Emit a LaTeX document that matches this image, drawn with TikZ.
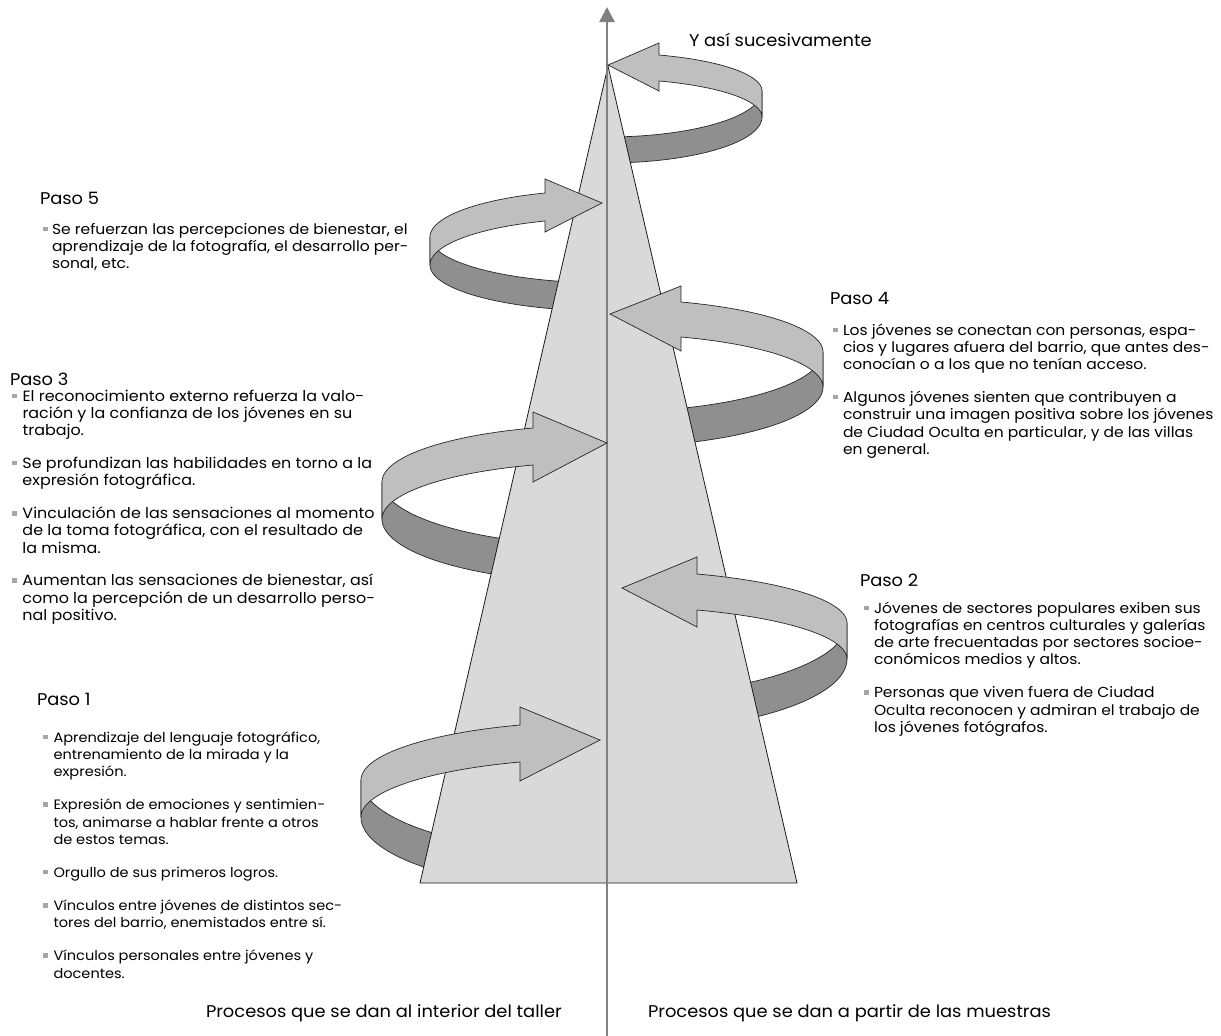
\documentclass[tikz,border=0pt]{standalone}
\usepackage{fontspec}
\setmainfont{Poppins}[FakeStretch=1.07]
\newfontfamily\headff{Poppins}[FakeStretch=1.05]
\usetikzlibrary{arrows.meta}
\definecolor{lightband}{HTML}{BFBFBF}
\definecolor{darkband}{HTML}{8F8F8F}
\definecolor{trifill}{HTML}{D9D9D9}
\definecolor{axisgray}{HTML}{808080}
\definecolor{bulgray}{HTML}{A6A6A6}
\pgfdeclarelayer{back}
\pgfdeclarelayer{mid}
\pgfsetlayers{back,mid,main}
\tikzset{
  darkpart/.style={fill=darkband, draw=black!85, line width=0.7pt, line join=round},
  lightpart/.style={fill=lightband, draw=black!85, line width=0.7pt, line join=miter},
  tristyle/.style={fill=trifill, draw=black!90, line width=0.8pt},
  axisline/.style={draw=axisgray, line width=2.4pt, -{Triangle[width=15pt,length=15pt]}},
  txtblock/.style={anchor=base west, inner sep=0pt, outer sep=0pt},
}
\newcommand\bodyfont{\fontsize{14.5}{17.3}\selectfont}
\newcommand\headfont{\headff\fontsize{17}{19}\selectfont}
\newcommand\bul{\textcolor{bulgray}{\rule[3pt]{4.5pt}{4.5pt}}}
\pgfkeys{/rib/.is family, /rib,
  side/.store in=\rs, cy/.store in=\rcy, a/.store in=\ra, h/.store in=\rh,
  bl/.store in=\rbl, hb/.store in=\rhb, y1/.store in=\ryone, ht/.store in=\rht,
  hbt/.store in=\rhbt, tx/.store in=\rtx, ty/.store in=\rty, xb/.store in=\rxb}
\newcommand\ribbon[1]{%
  \pgfkeys{/rib,#1}%
  \pgfmathsetmacro\rcx{607}%
  \pgfmathsetmacro\rth{acos((\rhb-\rcx)/\ra)}%
  \pgfmathsetmacro\rbu{(\rcy-\ryone)/sin(\rth)}%
  \pgfmathsetmacro\rtb{acos((\rxb-\rcx)/\ra)}%
  \pgfmathsetmacro\rend{\rs>0 ? 0 : 180}%
  \pgfmathsetmacro\rxe{\rcx+\rs*\ra}%
  \begin{pgfonlayer}{back}
    \filldraw[darkpart] plot[domain=\rend:\rtb, samples=50] ({\rcx+\ra*cos(\x)},{\rcy+\rbl*sin(\x)})
      -- plot[domain=\rtb:\rend, samples=50] ({\rcx+\ra*cos(\x)},{\rcy+\rh+\rbl*sin(\x)}) -- cycle;
  \end{pgfonlayer}
  \filldraw[lightpart] plot[domain=\rth:\rend, samples=50] ({\rcx+\ra*cos(\x)},{\rcy-\rbu*sin(\x)})
    -- (\rxe,\rcy+\rh)
    -- plot[domain=\rend:\rth, samples=50] ({\rcx+\ra*cos(\x)},{\rcy+\rh-\rbu*sin(\x)})
    -- (\rhb,\rhbt) -- (\rtx,\rty) -- (\rhb,\rht) -- cycle;
}
\begin{document}
\begin{tikzpicture}[x=1pt,y=-1pt]
\useasboundingbox (0,0) rectangle (1221,1036);
% cone and axis
\coordinate (apex) at (608,66);
\coordinate (bleft) at (420,883);
\coordinate (bright) at (797,883);
\coordinate (axbot) at (607,1036);
\coordinate (axtop) at (607,7);
\begin{pgfonlayer}{mid}
  \filldraw[tristyle] (apex) -- (bleft) -- (bright) -- cycle;
  \draw[axisline] (axbot) -- (axtop);
\end{pgfonlayer}
% ribbons
\ribbon{side=1, cy=91, a=155, h=26, bl=46, hb=659, y1=55, ht=43, hbt=91, tx=608, ty=65, xb=615}
\ribbon{side=-1, cy=237, a=177, h=28, bl=46, hb=545, y1=193, ht=179, hbt=232, tx=602, ty=203, xb=575}
\ribbon{side=1, cy=352, a=216, h=35, bl=60, hb=681, y1=302, ht=286, hbt=351, tx=610, ty=314, xb=665}
\ribbon{side=-1, cy=482, a=225, h=37, bl=64, hb=533, y1=428, ht=412, hbt=482, tx=607, ty=443, xb=520}
\ribbon{side=1, cy=623, a=240, h=36, bl=74, hb=697, y1=574, ht=557, hbt=627, tx=622, ty=588, xb=720}
\ribbon{side=-1, cy=780, a=246, h=37, bl=75, hb=520, y1=725, ht=707, hbt=781, tx=600, ty=740, xb=450}
% texts
\node[txtblock] (ysuc) at (689,46) {\headfont Y así sucesivamente};

\node[txtblock] (h5) at (40,204) {\headfont Paso 5};
\node[txtblock] (t5) at (43,234) {\bodyfont\begin{tabular}[t]{@{}l@{\hspace{4.5pt}}l@{}}
\bul & Se refuerzan las percepciones de bienestar, el\\
 & aprendizaje de la fotografía, el desarrollo per-\\
 & sonal, etc.
\end{tabular}};

\node[txtblock] (h4) at (830,304) {\headfont Paso 4};
\node[txtblock] (t4) at (833,335) {\bodyfont\begin{tabular}[t]{@{}l@{\hspace{5.5pt}}l@{}}
\bul & Los jóvenes se conectan con personas, espa-\\
 & cios y lugares afuera del barrio, que antes des-\\
 & conocían o a los que no tenían acceso.\\[15.5pt]
\bul & Algunos jóvenes sienten que contribuyen a\\
 & construir una imagen positiva sobre los jóvenes\\
 & de Ciudad Oculta en particular, y de las villas\\
 & en general.
\end{tabular}};

\node[txtblock] (h3) at (10,385) {\headfont Paso 3};
\node[txtblock] (t3) at (12,401) {\fontsize{14.9}{17.3}\selectfont\begin{tabular}[t]{@{}l@{\hspace{6pt}}l@{}}
\bul & El reconocimiento externo refuerza la valo-\\
 & ración y la confianza de los jóvenes en su\\
 & trabajo.\\[15.5pt]
\bul & Se profundizan las habilidades en torno a la\\
 & expresión fotográfica.\\[15.5pt]
\bul & Vinculación de las sensaciones al momento\\
 & de la toma fotográfica, con el resultado de\\
 & la misma.\\[15.5pt]
\bul & Aumentan las sensaciones de bienestar, así\\
 & como la percepción de un desarrollo perso-\\
 & nal positivo.
\end{tabular}};

\node[txtblock] (h2) at (860,586) {\headfont Paso 2};
\node[txtblock] (t2) at (864,613) {\bodyfont\begin{tabular}[t]{@{}l@{\hspace{5.5pt}}l@{}}
\bul & Jóvenes de sectores populares exiben sus\\
 & fotografías en centros culturales y galerías\\
 & de arte frecuentadas por sectores socioe-\\
 & conómicos medios y altos.\\[15.5pt]
\bul & Personas que viven fuera de Ciudad\\
 & Oculta reconocen y admiran el trabajo de\\
 & los jóvenes fotógrafos.
\end{tabular}};

\node[txtblock] (h1) at (37,705) {\headfont Paso 1};
\node[txtblock] (t1) at (43,742) {\fontsize{13.6}{17.3}\selectfont\begin{tabular}[t]{@{}l@{\hspace{6pt}}l@{}}
\bul & Aprendizaje del lenguaje fotográfico,\\
 & entrenamiento de la mirada y la\\
 & expresión.\\[15.8pt]
\bul & Expresión de emociones y sentimien-\\
 & tos, animarse a hablar frente a otros\\
 & de estos temas.\\[15.8pt]
\bul & Orgullo de sus primeros logros.\\[15.8pt]
\bul & Vínculos entre jóvenes de distintos sec-\\
 & tores del barrio, enemistados entre sí.\\[15.8pt]
\bul & Vínculos personales entre jóvenes y\\
 & docentes.
\end{tabular}};

\node[txtblock] (lab1) at (206,1017) {\headfont Procesos que se dan al interior del taller};
\node[txtblock] (lab2) at (648,1017) {\headfont Procesos que se dan a partir de las muestras};
\end{tikzpicture}
\end{document}
